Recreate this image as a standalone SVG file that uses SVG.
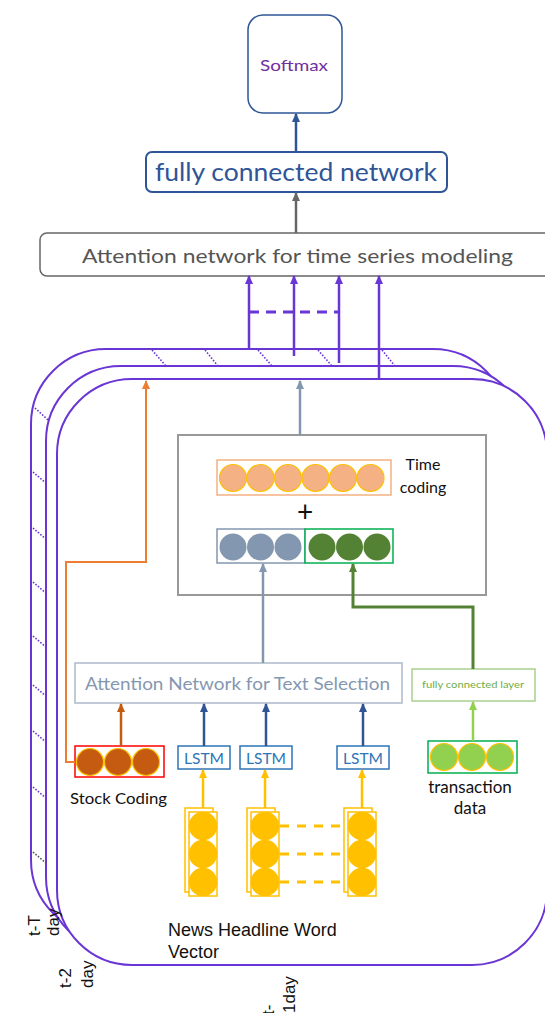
<svg xmlns="http://www.w3.org/2000/svg" width="545" height="1013" viewBox="0 0 545 1013">
<style>
.frame{fill:#fff;stroke:#6A35D5;stroke-width:2}
.tick{stroke:#6A35D5;stroke-width:1.6;stroke-dasharray:1.6 1.6;fill:none}
.cal{font-family:Lato,"Open Sans",sans-serif}
.ari{font-family:"Liberation Sans",Arial,sans-serif;fill:#111}
.ln{fill:none}
</style>
<defs>
<marker id="mPur" markerUnits="userSpaceOnUse" markerWidth="9" markerHeight="9" refX="8" refY="4.5" orient="auto"><path d="M0,0.5 L9,4.5 L0,8.5 z" fill="#6A35D5"/></marker>
<marker id="mGray" markerUnits="userSpaceOnUse" markerWidth="9" markerHeight="9" refX="8" refY="4.5" orient="auto"><path d="M0,0.5 L9,4.5 L0,8.5 z" fill="#666"/></marker>
<marker id="mBlue" markerUnits="userSpaceOnUse" markerWidth="9" markerHeight="9" refX="8" refY="4.5" orient="auto"><path d="M0,0.5 L9,4.5 L0,8.5 z" fill="#2F5597"/></marker>
<marker id="mSlate" markerUnits="userSpaceOnUse" markerWidth="9" markerHeight="9" refX="8" refY="4.5" orient="auto"><path d="M0,0.5 L9,4.5 L0,8.5 z" fill="#8497B0"/></marker>
<marker id="mOr" markerUnits="userSpaceOnUse" markerWidth="9" markerHeight="9" refX="8" refY="4.5" orient="auto"><path d="M0,0.5 L9,4.5 L0,8.5 z" fill="#ED7D31"/></marker>
<marker id="mBr" markerUnits="userSpaceOnUse" markerWidth="9" markerHeight="9" refX="8" refY="4.5" orient="auto"><path d="M0,0.5 L9,4.5 L0,8.5 z" fill="#C55A11"/></marker>
<marker id="mYel" markerUnits="userSpaceOnUse" markerWidth="9" markerHeight="9" refX="8" refY="4.5" orient="auto"><path d="M0,0.5 L9,4.5 L0,8.5 z" fill="#FFC000"/></marker>
<marker id="mGr" markerUnits="userSpaceOnUse" markerWidth="9" markerHeight="9" refX="8" refY="4.5" orient="auto"><path d="M0,0.5 L9,4.5 L0,8.5 z" fill="#548235"/></marker>
<marker id="mLg" markerUnits="userSpaceOnUse" markerWidth="9" markerHeight="9" refX="8" refY="4.5" orient="auto"><path d="M0,0.5 L9,4.5 L0,8.5 z" fill="#92D050"/></marker>
</defs>

<g id="frames">
<rect class="frame" x="31" y="349" width="477" height="586" rx="75"/>
<rect class="frame" x="46" y="366" width="482" height="586" rx="75"/>
<g id="ticks">
<path class="tick" d="M152,350 L166,366 M205,350 L218,366 M258,350 L272,366 M318,350 L332,366 M382,350 L395,366"/>
<path class="tick" d="M35,408 L48,420 M33,472 L47,484 M33,528 L47,540 M33,582 L47,594 M33,636 L47,648 M33,685 L47,697 M33,731 L47,743 M33,787 L47,799"/>
<path class="tick" style="stroke:#555" d="M33,852 L47,864"/>
</g>
<rect class="frame" x="57" y="379" width="490" height="586" rx="75"/>
</g>

<g id="softmax">
<rect x="248" y="15" width="94" height="98" rx="15" fill="#fff" stroke="#2F5597" stroke-width="1.5"/>
<text class="cal" x="294" y="71" font-size="15" fill="#7030A0" text-anchor="middle" textLength="68" lengthAdjust="spacingAndGlyphs">Softmax</text>
</g>

<g id="fc-network">
<rect x="146" y="152" width="301" height="40" rx="6" fill="#fff" stroke="#2F5597" stroke-width="2"/>
<text class="cal" x="155" y="181" font-size="25" fill="#2F5597" textLength="282" lengthAdjust="spacingAndGlyphs">fully connected network</text>
</g>

<g id="attn-time">
<rect x="40" y="233" width="520" height="43" rx="7" fill="#fff" stroke="#666" stroke-width="1.5"/>
<text class="cal" x="82" y="263" font-size="20" fill="#555" textLength="431" lengthAdjust="spacingAndGlyphs">Attention network for time series modeling</text>
</g>

<g id="combine">
<rect x="178" y="435" width="308" height="160" fill="#fff" stroke="#999" stroke-width="2"/>
<g id="time-coding">
<rect x="217" y="460" width="174" height="35" fill="#fff" stroke="#F4B183" stroke-width="1.5"/>
<g fill="#F4B183" stroke="#FFC000" stroke-width="1.2">
<circle cx="233" cy="478" r="13.5"/><circle cx="260.5" cy="478" r="13.5"/><circle cx="288" cy="478" r="13.5"/><circle cx="315.5" cy="478" r="13.5"/><circle cx="343" cy="478" r="13.5"/><circle cx="370.5" cy="478" r="13.5"/>
</g>
<text class="cal" x="423" y="470" font-size="16" fill="#111" text-anchor="middle">Time</text>
<text class="cal" x="423" y="493" font-size="16" fill="#111" text-anchor="middle">coding</text>
</g>
<text class="cal" x="305" y="522" font-size="28" fill="#111" text-anchor="middle">+</text>
<g id="text-vec">
<rect x="217" y="529" width="88" height="34" fill="#fff" stroke="#8497B0" stroke-width="1.5"/>
<g fill="#8497B0"><circle cx="233" cy="547" r="13.5"/><circle cx="260.5" cy="547" r="13.5"/><circle cx="288" cy="547" r="13.5"/></g>
</g>
<g id="trans-vec">
<rect x="305" y="529" width="88" height="34" fill="#fff" stroke="#00B050" stroke-width="1.5"/>
<g fill="#548235"><circle cx="322" cy="547" r="13.5"/><circle cx="349.5" cy="547" r="13.5"/><circle cx="377" cy="547" r="13.5"/></g>
</g>
</g>

<g id="attn-text">
<rect x="75" y="663" width="327" height="40" fill="#fff" stroke="#ADB9CA" stroke-width="1.5"/>
<text class="cal" x="85" y="690" font-size="18" fill="#8497B0" textLength="305" lengthAdjust="spacingAndGlyphs">Attention Network for Text Selection</text>
</g>

<g id="fc-layer">
<rect x="412" y="669" width="123" height="32" fill="#fff" stroke="#A9D18E" stroke-width="1.5"/>
<text class="cal" x="473" y="688" font-size="10" fill="#70AD47" text-anchor="middle" textLength="102" lengthAdjust="spacingAndGlyphs">fully connected layer</text>
</g>

<g id="transaction">
<rect x="428" y="741" width="89" height="32" fill="#fff" stroke="#00B050" stroke-width="1.5"/>
<g fill="#92D050" stroke="#FFC000" stroke-width="1.2"><circle cx="444" cy="757" r="13.5"/><circle cx="472" cy="757" r="13.5"/><circle cx="500" cy="757" r="13.5"/></g>
<text class="cal" x="470" y="793" font-size="17" fill="#111" text-anchor="middle">transaction</text>
<text class="cal" x="470" y="814" font-size="17" fill="#111" text-anchor="middle">data</text>
</g>

<g id="stock">
<rect x="75" y="746" width="89" height="31" fill="#fff" stroke="#FF0000" stroke-width="1.5"/>
<g fill="#C55A11" stroke="#FFC000" stroke-width="1.2"><circle cx="90" cy="762" r="13.5"/><circle cx="118" cy="762" r="13.5"/><circle cx="146" cy="762" r="13.5"/></g>
<text class="cal" x="70" y="804" font-size="16" fill="#111" textLength="97" lengthAdjust="spacingAndGlyphs">Stock Coding</text>
</g>

<g id="lstm1"><rect x="178" y="746" width="52" height="23" fill="#fff" stroke="#2E75B6" stroke-width="1.5"/><text class="cal" x="204" y="763.5" font-size="16" fill="#2E75B6" text-anchor="middle" textLength="40" lengthAdjust="spacingAndGlyphs">LSTM</text></g>
<g id="lstm2"><rect x="240" y="746" width="52" height="23" fill="#fff" stroke="#2E75B6" stroke-width="1.5"/><text class="cal" x="266" y="763.5" font-size="16" fill="#2E75B6" text-anchor="middle" textLength="40" lengthAdjust="spacingAndGlyphs">LSTM</text></g>
<g id="lstm3"><rect x="337" y="746" width="52" height="23" fill="#fff" stroke="#2E75B6" stroke-width="1.5"/><text class="cal" x="363" y="763.5" font-size="16" fill="#2E75B6" text-anchor="middle" textLength="40" lengthAdjust="spacingAndGlyphs">LSTM</text></g>

<g id="word-vec1" fill="none" stroke="#FFC000" stroke-width="1.5">
<rect x="185" y="808" width="28" height="84"/><rect x="189" y="812" width="28" height="84" fill="#fff"/>
<g fill="#FFC000" stroke="none"><circle cx="203" cy="826" r="14.3"/><circle cx="203" cy="854" r="14.3"/><circle cx="203" cy="882" r="14.3"/></g>
</g>
<g id="word-vec2" fill="none" stroke="#FFC000" stroke-width="1.5">
<rect x="247" y="808" width="28" height="84"/><rect x="251" y="812" width="28" height="84" fill="#fff"/>
<g fill="#FFC000" stroke="none"><circle cx="265" cy="826" r="14.3"/><circle cx="265" cy="854" r="14.3"/><circle cx="265" cy="882" r="14.3"/></g>
</g>
<g id="word-vec3" fill="none" stroke="#FFC000" stroke-width="1.5">
<rect x="344" y="808" width="28" height="84"/><rect x="348" y="812" width="28" height="84" fill="#fff"/>
<g fill="#FFC000" stroke="none"><circle cx="362" cy="826" r="14.3"/><circle cx="362" cy="854" r="14.3"/><circle cx="362" cy="882" r="14.3"/></g>
</g>

<g id="labels">
<text class="ari" x="168" y="936" font-size="18">News Headline Word</text>
<text class="ari" x="168" y="958" font-size="18">Vector</text>
<text class="ari" font-size="17" transform="translate(40,936) rotate(-90)">t-T</text>
<text class="ari" font-size="17" transform="translate(59,936) rotate(-90)">day</text>
<text class="ari" font-size="17" transform="translate(71,988) rotate(-90)">t-2</text>
<text class="ari" font-size="17" transform="translate(93,988) rotate(-90)">day</text>
<text class="ari" font-size="17" transform="translate(274,1015) rotate(-90)">t-</text>
<text class="ari" font-size="17" transform="translate(295,1013) rotate(-90)">1day</text>
</g>

<g id="connectors" class="ln">
<path d="M296,152 L296,114" stroke="#2F5597" stroke-width="2.5" fill="none" marker-end="url(#mBlue)"/>
<path d="M296,233 L296,193" stroke="#666" stroke-width="2.5" fill="none" marker-end="url(#mGray)"/>
<path d="M249,349 L249,276" stroke="#6A35D5" stroke-width="2.5" fill="none" marker-end="url(#mPur)"/>
<path d="M294,356 L294,276" stroke="#6A35D5" stroke-width="2.5" fill="none" marker-end="url(#mPur)"/>
<path d="M339,363 L339,276" stroke="#6A35D5" stroke-width="2.5" fill="none" marker-end="url(#mPur)"/>
<path d="M379,378 L379,276" stroke="#6A35D5" stroke-width="2.5" fill="none" marker-end="url(#mPur)"/>
<path d="M249,312 L339,312" stroke="#6A35D5" stroke-width="3" fill="none" stroke-dasharray="10 7"/>
<path d="M300,435 L300,381" stroke="#8497B0" stroke-width="2.5" fill="none" marker-end="url(#mSlate)"/>
<path d="M75,762 L66,762 L66,562 L146,562 L146,381" stroke="#ED7D31" stroke-width="2" fill="none" marker-end="url(#mOr)"/>
<path d="M263,663 L263,564" stroke="#8497B0" stroke-width="2.5" fill="none" marker-end="url(#mSlate)"/>
<path d="M473,669 L473,607 L353,607 L353,564" stroke="#548235" stroke-width="3" fill="none" marker-end="url(#mGr)"/>
<path d="M473,741 L473,702" stroke="#92D050" stroke-width="2.5" fill="none" marker-end="url(#mLg)"/>
<path d="M121,746 L121,704" stroke="#C55A11" stroke-width="2.5" fill="none" marker-end="url(#mBr)"/>
<path d="M204,746 L204,704" stroke="#2F5597" stroke-width="2.5" fill="none" marker-end="url(#mBlue)"/>
<path d="M266,746 L266,704" stroke="#2F5597" stroke-width="2.5" fill="none" marker-end="url(#mBlue)"/>
<path d="M363,746 L363,704" stroke="#2F5597" stroke-width="2.5" fill="none" marker-end="url(#mBlue)"/>
<path d="M203,808 L203,770" stroke="#FFC000" stroke-width="2.5" fill="none" marker-end="url(#mYel)"/>
<path d="M265,808 L265,770" stroke="#FFC000" stroke-width="2.5" fill="none" marker-end="url(#mYel)"/>
<path d="M362,808 L362,770" stroke="#FFC000" stroke-width="2.5" fill="none" marker-end="url(#mYel)"/>
<path d="M280,826 L346,826 M280,854 L346,854 M280,882 L346,882" stroke="#FFC000" stroke-width="3" fill="none" stroke-dasharray="9 8"/>
</g>
</svg>
